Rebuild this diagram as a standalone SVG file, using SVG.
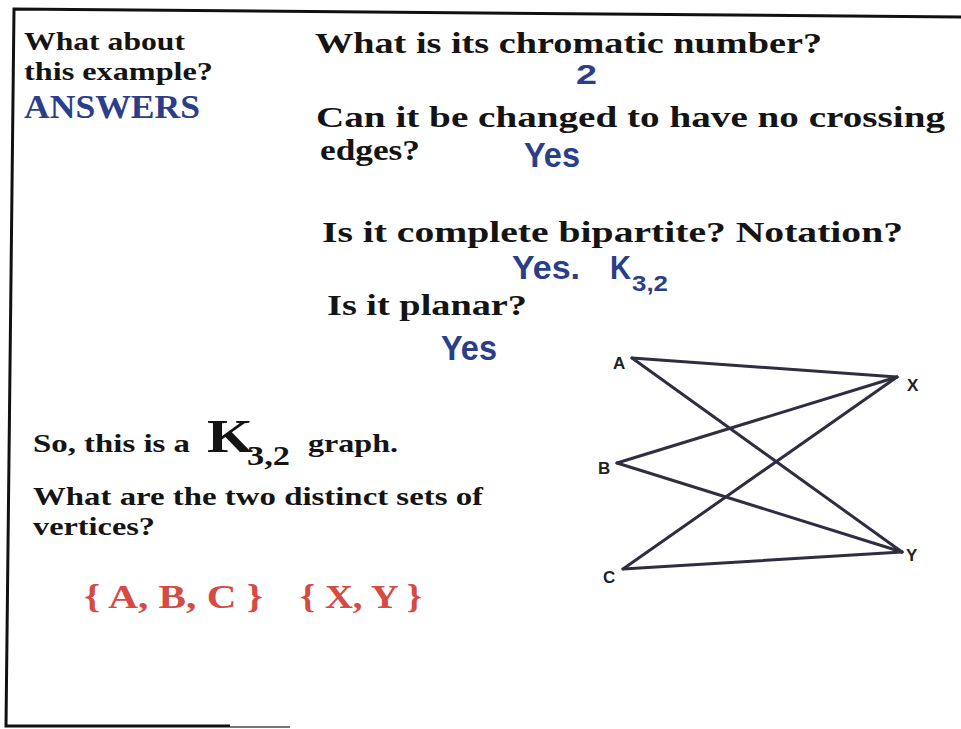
<svg xmlns="http://www.w3.org/2000/svg" width="961" height="729" viewBox="0 0 961 729">
<style>
.q{font-family:"Liberation Serif","DejaVu Serif",serif;font-weight:bold;fill:#141414}
.ans{font-family:"Liberation Sans","Open Sans",Arial,sans-serif;font-weight:bold;fill:#2b3e8a}
.red{font-family:"Liberation Serif",serif;font-weight:bold;fill:#d64a44}
.lbl{font-family:"Liberation Sans",Arial,sans-serif;font-weight:bold;font-size:17px;fill:#222}
.edge{stroke:#2e2e40;stroke-width:3;stroke-linecap:round;fill:none}
.frame{stroke:#111;stroke-width:3;fill:none}
</style>
<rect width="961" height="729" fill="#fff"/>
<g id="frame">
<polyline class="frame" points="961,17 14,9 6,726 230,726"/>
<line x1="230" y1="727" x2="290" y2="727" stroke="#777" stroke-width="2"/>
</g>
<g id="intro">
<text class="q" x="24" y="50" font-size="26" textLength="161" lengthAdjust="spacingAndGlyphs">What about</text>
<text class="q" x="24" y="80" font-size="26" textLength="189" lengthAdjust="spacingAndGlyphs">this example?</text>
<text x="24" y="118" font-family="Liberation Serif,serif" font-weight="bold" font-size="33" fill="#2b3e8a" textLength="176" lengthAdjust="spacingAndGlyphs">ANSWERS</text>
</g>
<g id="q1">
<text class="q" x="315" y="53" font-size="30" textLength="507" lengthAdjust="spacingAndGlyphs">What is its chromatic number?</text>
<text class="ans" x="576" y="84" font-size="28" textLength="21" lengthAdjust="spacingAndGlyphs">2</text>
</g>
<g id="q2">
<text class="q" x="316" y="127" font-size="30" textLength="629" lengthAdjust="spacingAndGlyphs">Can it be changed to have no crossing</text>
<text class="q" x="320" y="160" font-size="30" textLength="100" lengthAdjust="spacingAndGlyphs">edges?</text>
<text class="ans" x="524" y="167" font-size="35" textLength="56" lengthAdjust="spacingAndGlyphs">Yes</text>
</g>
<g id="q3">
<text class="q" x="322" y="242" font-size="30" textLength="581" lengthAdjust="spacingAndGlyphs">Is it complete bipartite?  Notation?</text>
<text class="ans" x="512" y="279" font-size="34" textLength="68" lengthAdjust="spacingAndGlyphs">Yes.</text>
<text class="ans" x="610" y="279" font-size="34" textLength="21" lengthAdjust="spacingAndGlyphs">K</text>
<text class="ans" x="632" y="291" font-size="22" textLength="36" lengthAdjust="spacingAndGlyphs">3,2</text>
</g>
<g id="q4">
<text class="q" x="327" y="315" font-size="30" textLength="200" lengthAdjust="spacingAndGlyphs">Is it planar?</text>
<text class="ans" x="441" y="360" font-size="35" textLength="56" lengthAdjust="spacingAndGlyphs">Yes</text>
</g>
<g id="summary">
<text class="q" x="33" y="452" font-size="25" textLength="157" lengthAdjust="spacingAndGlyphs">So, this is a</text>
<text class="q" x="207" y="452" font-size="46" textLength="46" lengthAdjust="spacingAndGlyphs">K</text>
<text class="q" x="247" y="465" font-size="27" textLength="43" lengthAdjust="spacingAndGlyphs">3,2</text>
<text class="q" x="308" y="452" font-size="25" textLength="90" lengthAdjust="spacingAndGlyphs">graph.</text>
<text class="q" x="33" y="505" font-size="25" textLength="450" lengthAdjust="spacingAndGlyphs">What are the two distinct sets of</text>
<text class="q" x="33" y="535" font-size="25" textLength="122" lengthAdjust="spacingAndGlyphs">vertices?</text>
</g>
<g id="sets">
<text class="red" x="84" y="608" font-size="33" textLength="179" lengthAdjust="spacingAndGlyphs">{ A, B, C }</text>
<text class="red" x="300" y="608" font-size="33" textLength="122" lengthAdjust="spacingAndGlyphs">{ X, Y }</text>
</g>
<g id="connectors">
<line class="edge" x1="632" y1="358" x2="897" y2="377"/>
<line class="edge" x1="632" y1="358" x2="902" y2="552"/>
<line class="edge" x1="617" y1="463" x2="897" y2="377"/>
<line class="edge" x1="617" y1="463" x2="902" y2="552"/>
<line class="edge" x1="623" y1="569" x2="897" y2="377"/>
<line class="edge" x1="623" y1="569" x2="902" y2="552"/>
</g>
<g id="node-A"><text class="lbl" x="613" y="369">A</text></g>
<g id="node-B"><text class="lbl" x="598" y="474">B</text></g>
<g id="node-C"><text class="lbl" x="603" y="583">C</text></g>
<g id="node-X"><text class="lbl" x="907" y="391">X</text></g>
<g id="node-Y"><text class="lbl" x="906" y="561">Y</text></g>
</svg>
